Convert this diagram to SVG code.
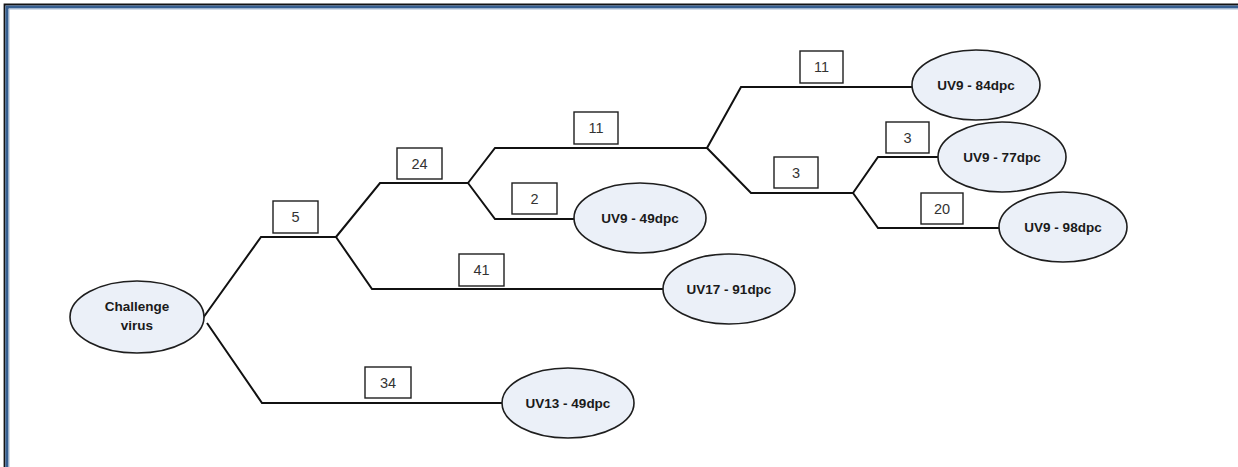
<svg xmlns="http://www.w3.org/2000/svg" width="1238" height="467" viewBox="0 0 1238 467">
<style>
.node ellipse{fill:#ebf0f8;stroke:#1e1e1e;stroke-width:1.6}
.node text{font-family:"Liberation Sans",Arial,sans-serif;font-weight:bold;font-size:13.5px;fill:#1a1a1a;text-anchor:middle}
.lbl rect{fill:#fff;stroke:#1e1e1e;stroke-width:1.4}
.lbl text{font-family:"Liberation Sans",Arial,sans-serif;font-size:14.5px;fill:#333;text-anchor:middle}
#connectors path{fill:none;stroke:#111;stroke-width:2;stroke-linejoin:miter}
</style>
<rect x="0" y="0" width="1238" height="467" fill="#fff"/>
<g id="frame">
<path d="M4.5,467 V4.5 H1238" fill="none" stroke="#141414" stroke-width="1.8"/>
<path d="M7,467 V7 H1238" fill="none" stroke="#365f91" stroke-width="3.2"/>
<path d="M9,467 V9 H1238" fill="none" stroke="#a9bcd4" stroke-width="1"/>
</g>
<g id="connectors">
<path d="M203,318 L261,237 H336"/>
<path d="M207,323 L262,403 H502"/>
<path d="M336,237 L380,183 H468"/>
<path d="M336,237 L372,289 H663"/>
<path d="M468,183 L495,148 H707"/>
<path d="M468,183 L495,219 H574"/>
<path d="M707,148 L741,87 H912"/>
<path d="M707,148 L751,193 H853"/>
<path d="M853,193 L878,157 H938"/>
<path d="M853,193 L878,228 H999"/>
</g>
<g id="labels">
<g class="lbl" id="lbl-5"><rect x="273" y="201" width="45" height="32"/><text x="295.5" y="222">5</text></g>
<g class="lbl" id="lbl-24"><rect x="397" y="148" width="45" height="31"/><text x="419.5" y="169">24</text></g>
<g class="lbl" id="lbl-2"><rect x="512" y="183" width="45" height="31"/><text x="534.5" y="204">2</text></g>
<g class="lbl" id="lbl-41"><rect x="459" y="254" width="45" height="32"/><text x="481.5" y="275">41</text></g>
<g class="lbl" id="lbl-34"><rect x="365" y="367" width="46" height="31"/><text x="388" y="388">34</text></g>
<g class="lbl" id="lbl-11a"><rect x="574" y="112" width="44" height="32"/><text x="596" y="133">11</text></g>
<g class="lbl" id="lbl-11b"><rect x="800" y="51" width="43" height="32"/><text x="821.5" y="72">11</text></g>
<g class="lbl" id="lbl-3a"><rect x="774" y="157" width="44" height="31"/><text x="796" y="178">3</text></g>
<g class="lbl" id="lbl-3b"><rect x="886" y="122" width="43" height="31"/><text x="907.5" y="143">3</text></g>
<g class="lbl" id="lbl-20"><rect x="921" y="193" width="42" height="31"/><text x="942" y="214">20</text></g>
</g>
<g class="node" id="n-challenge"><ellipse cx="137" cy="317" rx="67" ry="36"/><text x="137" y="311">Challenge</text><text x="137" y="330">virus</text></g>
<g class="node" id="n-uv9-49"><ellipse cx="640" cy="218" rx="66" ry="35"/><text x="640" y="223">UV9 - 49dpc</text></g>
<g class="node" id="n-uv17-91"><ellipse cx="729" cy="289" rx="66" ry="35"/><text x="729" y="294">UV17 - 91dpc</text></g>
<g class="node" id="n-uv13-49"><ellipse cx="568" cy="403" rx="66" ry="35"/><text x="568" y="408">UV13 - 49dpc</text></g>
<g class="node" id="n-uv9-84"><ellipse cx="976" cy="85" rx="64" ry="35"/><text x="976" y="90">UV9 - 84dpc</text></g>
<g class="node" id="n-uv9-77"><ellipse cx="1002" cy="157" rx="64" ry="35"/><text x="1002" y="162">UV9 - 77dpc</text></g>
<g class="node" id="n-uv9-98"><ellipse cx="1063" cy="227" rx="64" ry="35"/><text x="1063" y="232">UV9 - 98dpc</text></g>
</svg>
